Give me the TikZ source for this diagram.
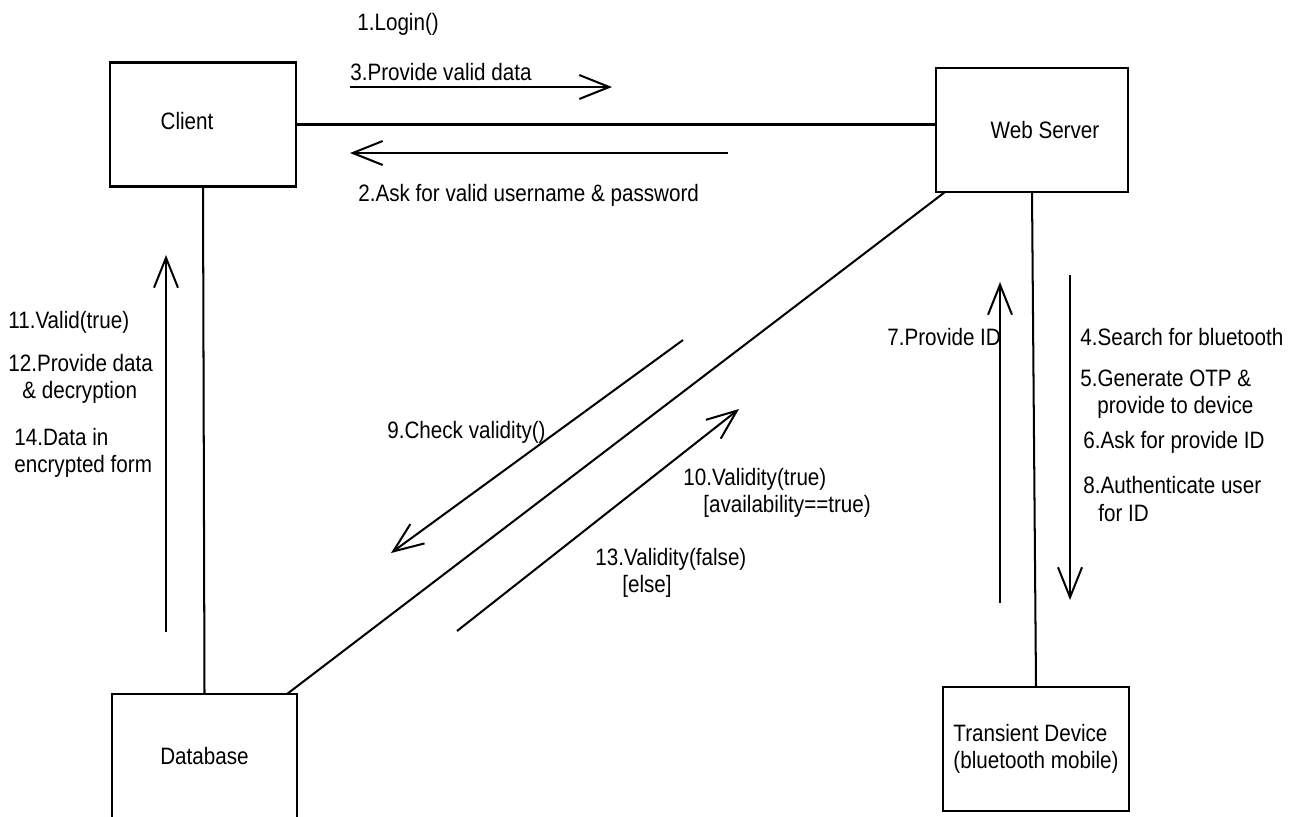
\documentclass[tikz,border=0pt]{standalone}
\usepackage{fontspec}
\setmainfont{Liberation Sans}[FakeStretch=0.87]
\usetikzlibrary{arrows.meta,calc}

\tikzset{
  obj/.style={draw, line width=1.4pt, minimum width=3.72cm, minimum height=2.48cm,
              inner sep=0pt, outer sep=0pt, align=left},
  link/.style={line width=1.15pt},
  msg/.style={line width=1.15pt, -{Straight Barb[length=0.6cm,width=0.48cm]}},
  lbl/.style={anchor=west, inner sep=0pt, align=left},
}

\begin{document}
\begin{tikzpicture}[x=0.02cm, y=-0.02cm,
    every node/.style={font=\fontsize{13.5}{15.4}\selectfont}]
  \useasboundingbox (0,0) rectangle (1293,816);

  % OBJECTS
  \node[obj] (client) at (203,124.5) {\raisebox{0.13cm}{Client}\hspace*{0.64cm}};
  \node[obj, minimum width=3.84cm] (server) at (1032,130) {\hspace*{0.52cm}Web Server};
  \node[obj, minimum width=3.7cm] (db) at (204.5,756) {Database};
  \node[obj] (device) at (1036,749) {Transient Device\\(bluetooth mobile)};

  % LINKS
  \draw[link] (client.east) -- (client.east -| server.west);
  \draw[link] (client.south) -- (db.north);
  \draw[link] ($(server.south west)+(9,0)$) -- ($(db.north east)+(-10,0)$);
  \draw[link] (server.south) -- (device.north);

  % MESSAGES
  \coordinate (m3a) at (350,87);   \coordinate (m3b) at (612,87);
  \coordinate (m2a) at (728,153);  \coordinate (m2b) at (350,153);
  \coordinate (m11a) at (166,632); \coordinate (m11b) at (166,255);
  \coordinate (m7a) at (1000,603); \coordinate (m7b) at (1000,282);
  \coordinate (m4a) at (1070,275); \coordinate (m4b) at (1070,600);
  \coordinate (m9a) at (683,340);  \coordinate (m9b) at (391,553);
  \coordinate (m10a) at (457,631); \coordinate (m10b) at (739,409);

  \draw[msg] (m3a) -- (m3b);
  \draw[msg] (m2a) -- (m2b);
  \draw[msg] (m11a) -- (m11b);
  \draw[msg] (m7a) -- (m7b);
  \draw[msg] (m4a) -- (m4b);
  \draw[msg] (m9a) -- (m9b);
  \draw[msg] (m10a) -- (m10b);

  % NOTES
  \node[lbl] (login) at (357,24) {1.Login()};
  \node[lbl] (provdata) at (350,72) {3.Provide valid data};
  \node[lbl] (askuser) at (358,195) {2.Ask for valid username \& password};
  \node[lbl] (valid) at (8,322) {11.Valid(true)};
  \node[lbl] (decrypt) at (8,379) {12.Provide data\\\hspace*{0.28cm}\& decryption};
  \node[lbl] (encrypt) at (14,453) {14.Data in\\encrypted form};
  \node[lbl] (provid) at (887,337) {7.Provide ID};
  \node[lbl] (search) at (1080,337) {4.Search for bluetooth};
  \node[lbl] (otp) at (1080,394) {5.Generate OTP \&\\\hspace*{0.34cm}provide to device};
  \node[lbl] (askid) at (1083,442) {6.Ask for provide ID};
  \node[lbl] (auth) at (1083,499) {8.Authenticate user\\\hspace*{0.3cm}for ID};
  \node[lbl] (check) at (387,432) {9.Check validity()};
  \node[lbl] (vtrue) at (683,493) {10.Validity(true)\\\hspace*{0.4cm}[availability==true)};
  \node[lbl] (vfalse) at (595,573) {13.Validity(false)\\\hspace*{0.54cm}[else]};
\end{tikzpicture}
\end{document}
